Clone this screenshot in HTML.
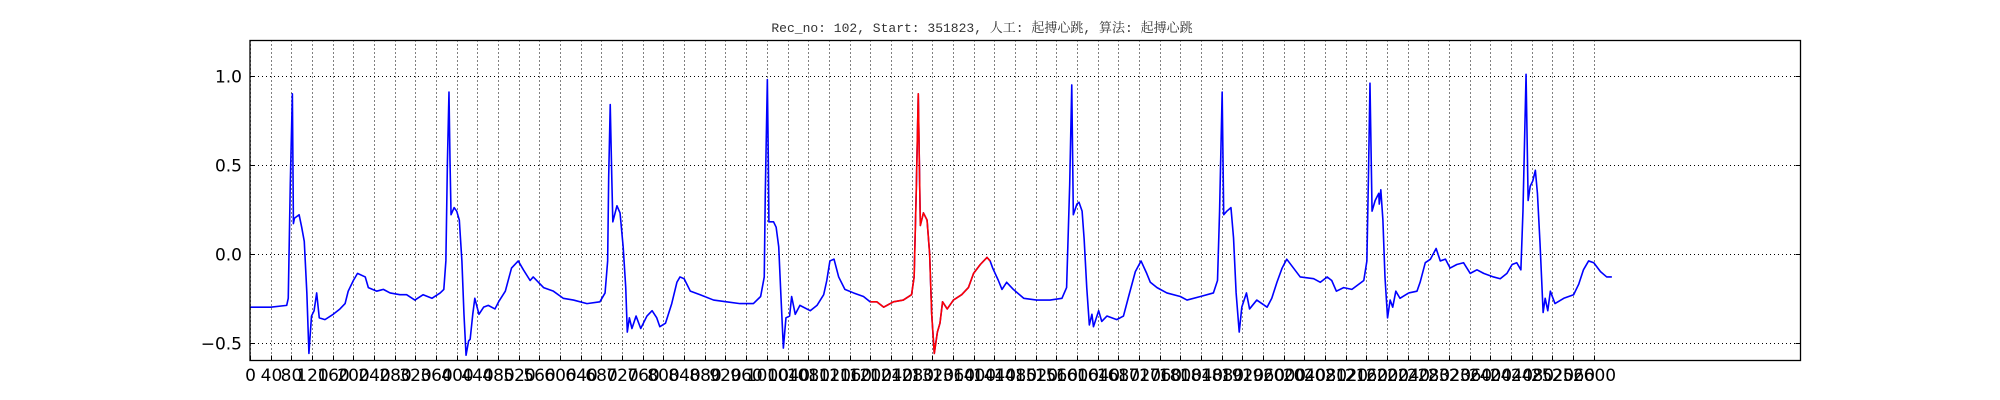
<!DOCTYPE html>
<html><head><meta charset="utf-8"><style>
html,body{margin:0;padding:0;background:#fff;width:2000px;height:400px;overflow:hidden}
svg text{font-family:"DejaVu Sans","Liberation Sans",sans-serif}
</style></head><body>
<svg id="chart" width="2000" height="400" xmlns="http://www.w3.org/2000/svg">
<text x="982" y="32" text-anchor="middle" font-size="13" style="font-family:'Liberation Mono','Noto Serif CJK SC',monospace" fill="#333">Rec_no: 102, Start: 351823, 人工: 起搏心跳, 算法: 起搏心跳</text>
</svg>
<script>
const sampleIdx = [0,40,71,74,78,82,84,86,95,100,105,110,114,119,124,129,134,145,161,174,184,190,200,208,223,229,245,258,271,290,303,319,335,352,368,375,379,382,385,387,389,395,400,405,410,414,418,423,426,431,435,443,452,461,474,481,494,506,519,529,542,548,568,587,606,626,652,677,687,692,694,697,700,702,710,716,722,727,730,734,739,747,756,768,778,787,793,804,816,826,832,840,852,871,897,922,948,974,988,995,997,1001,1003,1004,1013,1018,1023,1027,1032,1037,1044,1048,1055,1064,1084,1097,1110,1116,1122,1130,1139,1151,1168,1187,1200,1213,1226,1245,1264,1280,1285,1289,1293,1297,1303,1310,1315,1319,1324,1330,1335,1340,1349,1361,1377,1390,1400,1413,1426,1432,1437,1448,1455,1464,1477,1497,1522,1548,1571,1580,1586,1590,1593,1600,1604,1610,1614,1619,1624,1629,1632,1642,1648,1658,1677,1690,1700,1713,1724,1735,1742,1755,1774,1800,1813,1839,1864,1872,1876,1881,1884,1890,1898,1903,1908,1914,1919,1928,1934,1948,1968,1977,1987,1997,2006,2019,2032,2058,2071,2084,2093,2102,2116,2132,2155,2161,2164,2167,2171,2177,2184,2185,2188,2192,2196,2201,2206,2211,2217,2225,2242,2258,2264,2274,2284,2295,2303,2313,2322,2335,2348,2361,2374,2387,2406,2419,2432,2442,2451,2459,2463,2469,2473,2477,2482,2487,2491,2496,2502,2506,2511,2516,2525,2542,2561,2571,2580,2590,2600,2613,2625,2635];
const ecgValues = [-0.30,-0.30,-0.29,-0.25,0.40,0.90,0.17,0.20,0.22,0.15,0.07,-0.22,-0.56,-0.35,-0.32,-0.22,-0.36,-0.37,-0.34,-0.31,-0.28,-0.21,-0.15,-0.11,-0.13,-0.19,-0.21,-0.20,-0.22,-0.23,-0.23,-0.26,-0.23,-0.25,-0.22,-0.20,-0.04,0.52,0.91,0.52,0.22,0.26,0.24,0.19,-0.04,-0.34,-0.57,-0.49,-0.48,-0.34,-0.25,-0.34,-0.30,-0.29,-0.31,-0.27,-0.21,-0.08,-0.04,-0.09,-0.15,-0.13,-0.19,-0.21,-0.25,-0.26,-0.28,-0.27,-0.22,-0.04,0.43,0.84,0.43,0.18,0.27,0.23,0.04,-0.19,-0.44,-0.36,-0.42,-0.35,-0.42,-0.35,-0.32,-0.36,-0.41,-0.39,-0.28,-0.16,-0.13,-0.14,-0.21,-0.23,-0.26,-0.27,-0.28,-0.28,-0.24,-0.13,0.34,0.98,0.50,0.18,0.18,0.15,0.04,-0.22,-0.53,-0.36,-0.35,-0.24,-0.34,-0.29,-0.32,-0.29,-0.23,-0.15,-0.04,-0.03,-0.13,-0.20,-0.22,-0.24,-0.27,-0.27,-0.30,-0.27,-0.26,-0.23,-0.13,0.34,0.90,0.16,0.23,0.19,0.00,-0.34,-0.56,-0.44,-0.39,-0.27,-0.31,-0.26,-0.23,-0.19,-0.11,-0.06,-0.02,-0.04,-0.08,-0.15,-0.20,-0.16,-0.20,-0.25,-0.26,-0.26,-0.25,-0.19,0.39,0.95,0.22,0.28,0.29,0.24,0.08,-0.19,-0.40,-0.34,-0.41,-0.32,-0.38,-0.35,-0.37,-0.35,-0.24,-0.10,-0.04,-0.11,-0.16,-0.19,-0.22,-0.24,-0.26,-0.24,-0.22,-0.15,0.24,0.91,0.22,0.24,0.26,0.09,-0.22,-0.44,-0.30,-0.22,-0.31,-0.26,-0.30,-0.25,-0.16,-0.08,-0.03,-0.08,-0.13,-0.14,-0.16,-0.13,-0.15,-0.21,-0.19,-0.20,-0.15,-0.04,0.43,0.96,0.24,0.30,0.34,0.28,0.36,0.19,-0.13,-0.36,-0.26,-0.30,-0.21,-0.25,-0.22,-0.21,-0.16,-0.05,-0.03,0.03,-0.04,-0.03,-0.08,-0.06,-0.05,-0.11,-0.09,-0.11,-0.13,-0.14,-0.11,-0.06,-0.05,-0.09,0.24,1.01,0.30,0.38,0.41,0.47,0.34,0.06,-0.33,-0.25,-0.32,-0.21,-0.28,-0.25,-0.23,-0.17,-0.09,-0.04,-0.05,-0.10,-0.13,-0.13];
const redStart = 1200, redEnd = 1435;
const xTicks = []; for (let t = 0; t <= 2600; t += 40) xTicks.push(t);
const yTicks = [-0.5, 0.0, 0.5, 1.0];
const yTickLabels = ["\u22120.5","0.0","0.5","1.0"];

const L=250,R=1800.5,T=40.5,B=360.5, XMAX=3000, YMIN=-0.6, YMAX=1.2;
const sx = v => L + v/XMAX*(R-L);
const sy = v => B - (v-YMIN)/(YMAX-YMIN)*(B-T);
const svg = document.getElementById('chart');
const NS='http://www.w3.org/2000/svg';
function mk(tag, attrs){const e=document.createElementNS(NS,tag);for(const k in attrs)e.setAttribute(k,attrs[k]);svg.appendChild(e);return e;}

xTicks.forEach(t=>{
  const x=Math.round(sx(t))+0.5;
  const g=mk('line',{x1:x,x2:x,y1:T,y2:B,stroke:'#000','stroke-width':1,'stroke-dasharray':'1,3'});
  
  
  const tk=mk('line',{x1:x,x2:x,y1:B-5,y2:B,stroke:'#000','stroke-width':1});
  
  
  const lb=mk('text',{x:x,y:381,'text-anchor':'middle','font-size':17,fill:'#000'});
  lb.textContent=String(t);
  
  
});
yTicks.forEach((t,i)=>{
  const y=Math.round(sy(t))+0.5;
  const g=mk('line',{x1:L,x2:R,y1:y,y2:y,stroke:'#000','stroke-width':1,'stroke-dasharray':'1,3'});
  
  
  const tk=mk('line',{x1:L,x2:L+5,y1:y,y2:y,stroke:'#000','stroke-width':1});
  
  
  const tk2=mk('line',{x1:R-5,x2:R,y1:y,y2:y,stroke:'#000','stroke-width':1});
  
  
  const lb=mk('text',{x:L-8,y:y+6,'text-anchor':'end','font-size':17,fill:'#000'});
  lb.textContent=yTickLabels[i];
  
  
});

let ptsAll=[], ptsRed=[];
sampleIdx.forEach((s,i)=>{
  const p=sx(s).toFixed(2)+','+sy(ecgValues[i]).toFixed(2);
  ptsAll.push(p);
  if(s>=redStart && s<=redEnd) ptsRed.push(p);
});
const line=mk('polyline',{points:ptsAll.join(' '),fill:'none',stroke:'#0000ff','stroke-width':1.6,'stroke-linejoin':'round'});


const red=mk('polyline',{points:ptsRed.join(' '),fill:'none',stroke:'#ff0000','stroke-width':1.6,'stroke-linejoin':'round'});



const frame=mk('rect',{x:L,y:T,width:R-L,height:B-T,fill:'none',stroke:'#000','stroke-width':1.3});


</script>
</body></html>
